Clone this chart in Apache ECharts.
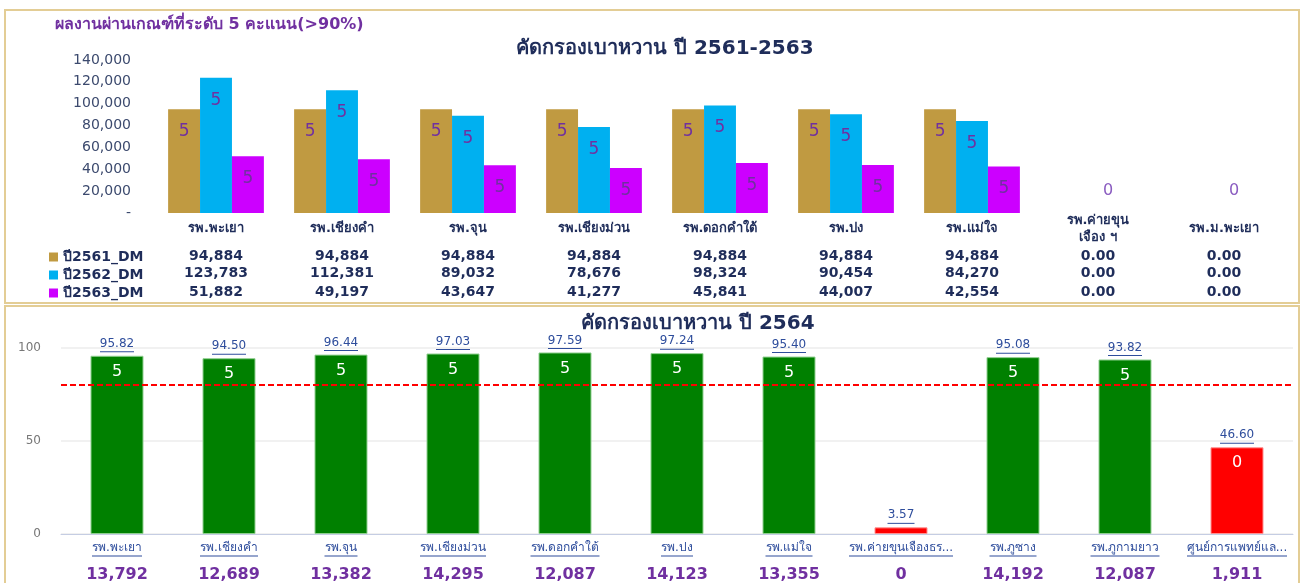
<!DOCTYPE html>
<html>
<head>
<meta charset="utf-8">
<script src="https://cdn.jsdelivr.net/npm/echarts@6/dist/echarts.min.js"></script>
<style>
  html, body { margin: 0; padding: 0; background: #fff; }
  #main { width: 1303px; height: 583px; }
</style>
</head>
<body>
<div id="main"></div>
<script>
// ข้อมูลกราฟบน ปี 2561-2563
var hospitals = ['รพ.พะเยา', 'รพ.เชียงคำ', 'รพ.จุน', 'รพ.เชียงม่วน', 'รพ.ดอกคำใต้', 'รพ.ปง', 'รพ.แม่ใจ', 'รพ.ค่ายขุน\nเจือง ฯ', 'รพ.ม.พะเยา'];
var dm2561 = [94884, 94884, 94884, 94884, 94884, 94884, 94884, 0, 0];
var dm2562 = [123783, 112381, 89032, 78676, 98324, 90454, 84270, 0, 0];
var dm2563 = [51882, 49197, 43647, 41277, 45841, 44007, 42554, 0, 0];
var score2561 = [5, 5, 5, 5, 5, 5, 5, 0, 0];
var score2562 = [5, 5, 5, 5, 5, 5, 5, 0, 0];
var score2563 = [5, 5, 5, 5, 5, 5, 5, 0, 0];
var topTicks = ['-', '20,000', '40,000', '60,000', '80,000', '100,000', '120,000', '140,000'];

// ข้อมูลกราฟล่าง ปี 2564
var hospitals2564 = ['รพ.พะเยา', 'รพ.เชียงคำ', 'รพ.จุน', 'รพ.เชียงม่วน', 'รพ.ดอกคำใต้', 'รพ.ปง', 'รพ.แม่ใจ', 'รพ.ค่ายขุนเจืองธร...', 'รพ.ภูซาง', 'รพ.ภูกามยาว', 'ศูนย์การแพทย์แล...'];
var percent2564 = [95.82, 94.50, 96.44, 97.03, 97.59, 97.24, 95.40, 3.57, 95.08, 93.82, 46.60];
var score2564 = [5, 5, 5, 5, 5, 5, 5, 0, 5, 5, 0];
var target2564 = [13792, 12689, 13382, 14295, 12087, 14123, 13355, 0, 14192, 12087, 1911];
var goal = 80;

var fontFam = 'Tahoma, Verdana, "DejaVu Sans", sans-serif';
var navy = '#1f2d5a';
var purple = '#7030a0';
var linkBlue = '#2e4d9c';

function fmtNum(v) {
  return v === 0 ? '0.00' : v.toLocaleString('en-US');
}

// วัดความกว้างข้อความเพื่อทำเส้นใต้
var cv = document.createElement('canvas').getContext('2d');
function textW(s, size, bold) {
  cv.font = (bold ? 'bold ' : '') + size + 'px ' + fontFam;
  return Math.round(cv.measureText(s).width);
}

var echarts1 = echarts.init(document.getElementById('main'));

// label สำหรับกราฟบน
function topData(values, scores, showZero) {
  return values.map(function (v, i) {
    if (v === 0) {
      return {
        value: v,
        label: {
          show: showZero, position: 'top', distance: 14, offset: [10, 0],
          formatter: String(scores[i]), color: '#8a5cc0', fontSize: 16
        }
      };
    }
    return v;
  });
}

var topSeriesLabel = {
  show: true,
  position: 'insideTop',
  distance: 14,
  color: purple,
  fontSize: 17,
  fontFamily: fontFam
};

// แถวตาราง ใต้กราฟบน
function tableAxis(values, offset) {
  return {
    type: 'category', gridIndex: 0, position: 'bottom', data: values.map(fmtNum), offset: offset,
    axisLine: { show: false }, axisTick: { show: false },
    axisLabel: { interval: 0, margin: 0, verticalAlign: 'middle', color: navy, fontSize: 14, fontWeight: 'bold', fontFamily: fontFam }
  };
}

// rich style สำหรับแกน x ด้านล่าง
var catRich = {
  n: { fontSize: 12, color: linkBlue, fontFamily: fontFam, lineHeight: 15 },
  c: { fontSize: 16, fontWeight: 'bold', color: purple, fontFamily: fontFam, lineHeight: 26, verticalAlign: 'bottom' }
};
hospitals2564.forEach(function (h, i) {
  catRich['u' + i] = { width: textW(h, 12, false), height: 1, backgroundColor: linkBlue, lineHeight: 2 };
});

var valRich = { v: { fontSize: 12, color: linkBlue, fontFamily: fontFam, lineHeight: 14 } };
percent2564.forEach(function (p, i) {
  valRich['u' + i] = { width: textW(p.toFixed(2), 12, false), height: 1, backgroundColor: linkBlue, lineHeight: 2 };
});

var option = {
  animation: false,
  title: [
    {
      text: 'ผลงานผ่านเกณฑ์ที่ระดับ 5 คะแนน(>90%)',
      left: 50, top: 12,
      textStyle: { color: purple, fontSize: 16, fontWeight: 'bold', fontFamily: fontFam }
    },
    {
      text: 'คัดกรองเบาหวาน ปี 2561-2563',
      left: 511, top: 34,
      textStyle: { color: navy, fontSize: 20, fontWeight: 'bold', fontFamily: fontFam }
    },
    {
      text: 'คัดกรองเบาหวาน ปี 2564',
      left: 576, top: 309,
      textStyle: { color: navy, fontSize: 20, fontWeight: 'bold', fontFamily: fontFam }
    }
  ],
  //กรอบสองกราฟ
  graphic: [
    { type: 'rect', shape: { x: 5, y: 10, width: 1294, height: 293 }, style: { fill: 'none', stroke: '#e3cd95', lineWidth: 2 }, silent: true },
    { type: 'rect', shape: { x: 5, y: 306, width: 1294, height: 290 }, style: { fill: 'none', stroke: '#e3cd95', lineWidth: 2 }, silent: true }
  ],
  legend: {
    data: ['ปี2561_DM', 'ปี2562_DM', 'ปี2563_DM'],
    orient: 'vertical',
    left: 44, top: 245,
    icon: 'rect',
    itemWidth: 9, itemHeight: 9, itemGap: 4,
    textStyle: { color: navy, fontSize: 14, fontWeight: 'bold', fontFamily: fontFam, lineHeight: 14 }
  },
  grid: [
    { left: 153, width: 1134, top: 60, height: 153 },
    { left: 61, width: 1232, top: 348, height: 187 }
  ],
  xAxis: [
    {
      type: 'category', gridIndex: 0, position: 'bottom', data: hospitals,
      axisLine: { show: false }, axisTick: { show: false },
      axisLabel: { interval: 0, margin: 16, verticalAlign: 'middle', color: navy, fontSize: 13, fontWeight: 'bold', fontFamily: fontFam, lineHeight: 17 }
    },
    tableAxis(dm2561, 43),
    tableAxis(dm2562, 60),
    tableAxis(dm2563, 79),
    {
      type: 'category', gridIndex: 1, position: 'bottom', data: hospitals2564,
      axisLine: { lineStyle: { color: '#c5cde3' } }, axisTick: { show: false },
      axisLabel: {
        interval: 0, margin: 6, rich: catRich,
        formatter: function (v, i) {
          return '{n|' + v + '}\n{u' + i + '|}\n{c|' + target2564[i].toLocaleString('en-US') + '}';
        }
      }
    }
  ],
  yAxis: [
    {
      type: 'value', gridIndex: 0, min: 0, max: 140000, interval: 20000,
      splitLine: { show: false },
      axisLabel: {
        color: '#3c4a6e', fontSize: 14, fontFamily: fontFam, margin: 22,
        formatter: function (v) { return topTicks[v / 20000]; }
      }
    },
    {
      type: 'value', gridIndex: 1, min: 0, max: 100, interval: 50,
      splitLine: { lineStyle: { color: '#ececec', width: 1.5 } },
      axisLabel: { color: '#777', fontSize: 12, fontFamily: fontFam, margin: 20 }
    }
  ],
  series: [
    {
      name: 'ปี2561_DM', type: 'bar', xAxisIndex: 0, yAxisIndex: 0,
      data: topData(dm2561, score2561, false),
      itemStyle: { color: '#c09a41' },
      barGap: '0%', barCategoryGap: '24%',
      label: Object.assign({}, topSeriesLabel, { formatter: function (p) { return score2561[p.dataIndex]; } })
    },
    {
      name: 'ปี2562_DM', type: 'bar', xAxisIndex: 0, yAxisIndex: 0,
      data: topData(dm2562, score2562, true),
      itemStyle: { color: '#00b0f0' },
      barGap: '0%', barCategoryGap: '24%',
      label: Object.assign({}, topSeriesLabel, { formatter: function (p) { return score2562[p.dataIndex]; } })
    },
    {
      name: 'ปี2563_DM', type: 'bar', xAxisIndex: 0, yAxisIndex: 0,
      data: topData(dm2563, score2563, false),
      itemStyle: { color: '#cc00ff' },
      barGap: '0%', barCategoryGap: '24%',
      label: Object.assign({}, topSeriesLabel, { formatter: function (p) { return score2563[p.dataIndex]; } })
    },
    // เส้นเป้าหมาย 80% อยู่หลังแท่ง
    {
      type: 'line', xAxisIndex: 4, yAxisIndex: 1, data: [], z: 1,
      markLine: {
        silent: true, symbol: 'none', label: { show: false },
        lineStyle: { color: '#ff0000', type: [6, 3], width: 2 },
        data: [{ yAxis: goal }]
      }
    },
    {
      name: 'ร้อยละ2564', type: 'bar', xAxisIndex: 4, yAxisIndex: 1, z: 3,
      barWidth: 53,
      data: percent2564.map(function (v) {
        return { value: v, itemStyle: { color: v >= goal ? '#008000' : '#ff0000', borderColor: v >= goal ? '#8fcf8f' : '#ff9090', borderWidth: 1 } };
      }),
      label: {
        show: true, position: 'top', distance: 3, rich: valRich,
        formatter: function (p) { return '{v|' + p.value.toFixed(2) + '}\n{u' + p.dataIndex + '|}'; }
      }
    },
    {
      name: 'คะแนน2564', type: 'bar', xAxisIndex: 4, yAxisIndex: 1, z: 4,
      barWidth: 53, barGap: '-100%',
      data: percent2564,
      itemStyle: { color: 'transparent' },
      label: {
        show: true, position: 'insideTop', distance: 8,
        color: '#fff', fontSize: 16, fontFamily: fontFam,
        formatter: function (p) { return p.value < 10 ? '' : score2564[p.dataIndex]; }
      }
    }
  ]
};

echarts1.setOption(option);
</script>
</body>
</html>
